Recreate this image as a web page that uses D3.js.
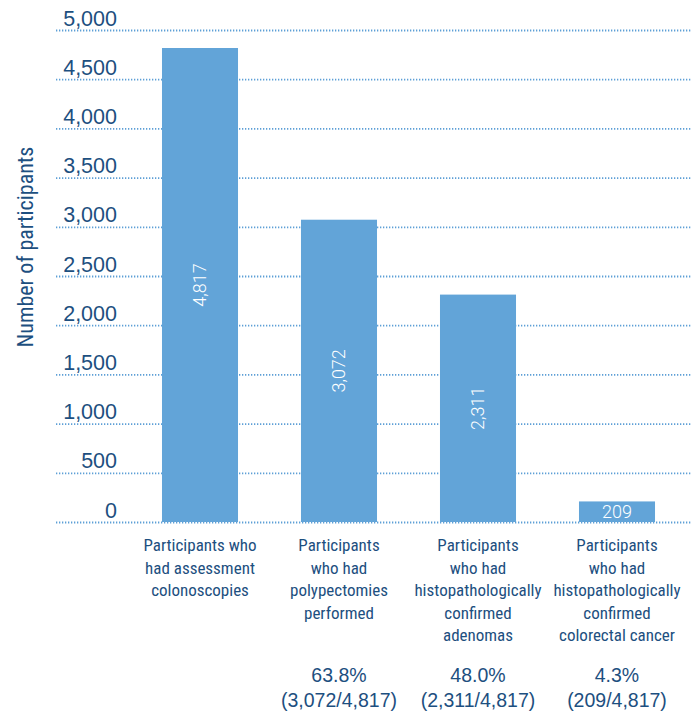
<!DOCTYPE html>
<html>
<head>
<meta charset="utf-8">
<script src="https://cdn.jsdelivr.net/npm/d3@7"></script>
<style>
  html, body { margin: 0; padding: 0; background: #ffffff; }
  svg { display: block; }
</style>
</head>
<body>
<svg id="chart" width="692" height="713"></svg>
<script>
// Participants at each stage of follow-up
const categories = [
  ["Participants who", "had assessment", "colonoscopies"],
  ["Participants", "who had", "polypectomies", "performed"],
  ["Participants", "who had", "histopathologically", "confirmed", "adenomas"],
  ["Participants", "who had", "histopathologically", "confirmed", "colorectal cancer"]
];
const values = [4817, 3072, 2311, 209];
const shareLabels = [null, "63.8%", "48.0%", "4.3%"];
const ratioLabels = [null, "(3,072/4,817)", "(2,311/4,817)", "(209/4,817)"];
const yTicks = [0, 500, 1000, 1500, 2000, 2500, 3000, 3500, 4000, 4500, 5000];

const barColor = "#62a4d8";
const textColor = "#1d4f80";
const gridColor = "#5d9fd6";
const narrow = "'Liberation Sans Narrow', 'Roboto Condensed', 'Liberation Sans', sans-serif";
const regular = "'Liberation Sans', Arial, sans-serif";

const svg = d3.select("#chart");

const y = d3.scaleLinear().domain([0, 5000]).range([522, 30]);
const x = d3.scaleBand()
  .domain(d3.range(values.length))
  .range([130.5, 686.5])
  .paddingInner(0.453)
  .paddingOuter(0.2265);

// dotted gridlines with tick labels sitting on top of them
const axis = d3.axisLeft(y)
  .tickValues(yTicks)
  .tickSize(-(692 - 56))
  .tickFormat(d3.format(","));

const gAxis = svg.append("g")
  .attr("transform", "translate(56,0)")
  .call(axis);
gAxis.select(".domain").remove();
gAxis.selectAll(".tick line")
  .attr("stroke", gridColor)
  .attr("stroke-width", 1.8)
  .attr("stroke-dasharray", "1.3,1.7");
gAxis.selectAll(".tick text")
  .attr("x", 61)
  .attr("dy", -5)
  .attr("text-anchor", "end")
  .attr("fill", textColor)
  .style("font-family", regular)
  .style("font-size", "21.5px");

// bars
svg.append("g").selectAll("rect")
  .data(values)
  .join("rect")
  .attr("x", (d, i) => x(i))
  .attr("width", x.bandwidth())
  .attr("y", d => y(d))
  .attr("height", d => y(0) - y(d))
  .attr("fill", barColor);

// value labels inside bars
const fmt = d3.format(",");
svg.append("g").selectAll("text")
  .data(values)
  .join("text")
  .attr("transform", (d, i) => {
    const cx = x(i) + x.bandwidth() / 2;
    const cy = (y(d) + y(0)) / 2;
    return d > 1000 ? `translate(${cx},${cy}) rotate(-90)` : `translate(${cx},${cy})`;
  })
  .attr("text-anchor", "middle")
  .attr("dy", "0.36em")
  .attr("fill", "#ffffff")
  .style("font-family", "Roboto, sans-serif")
  .style("font-weight", 300)
  .style("font-size", "18px")
  .text(d => fmt(d));

// category labels
const catG = svg.append("g").selectAll("text")
  .data(categories)
  .join("text")
  .attr("text-anchor", "middle")
  .attr("fill", textColor)
  .style("font-family", narrow)
  .style("font-size", "17px");
catG.selectAll("tspan")
  .data((d, i) => d.map(line => ({ line, i })))
  .join("tspan")
  .attr("x", d => x(d.i) + x.bandwidth() / 2)
  .attr("y", (d, j) => 551 + j * 22.5)
  .text(d => d.line);

// share of all participants
svg.append("g").selectAll("text")
  .data(shareLabels.map((s, i) => ({ s, r: ratioLabels[i], i })).filter(d => d.s))
  .join("text")
  .attr("text-anchor", "middle")
  .attr("fill", textColor)
  .style("font-family", regular)
  .style("font-size", "19.5px")
  .each(function (d) {
    const t = d3.select(this);
    const cx = x(d.i) + x.bandwidth() / 2;
    t.append("tspan").attr("x", cx).attr("y", 682).text(d.s);
    t.append("tspan").attr("x", cx).attr("y", 707).text(d.r);
  });

// y-axis title
svg.append("text")
  .attr("transform", "translate(33,247) rotate(-90)")
  .attr("text-anchor", "middle")
  .attr("fill", textColor)
  .style("font-family", narrow)
  .style("font-size", "22px")
  .text("Number of participants");
</script>
</body>
</html>
